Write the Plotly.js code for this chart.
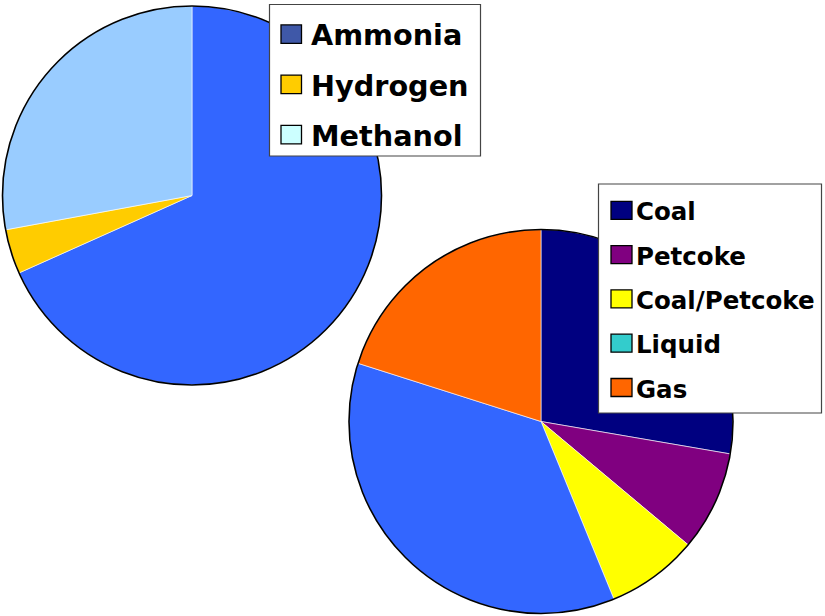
<!DOCTYPE html>
<html>
<head>
<meta charset="utf-8">
<script src="https://cdn.plot.ly/plotly-3.0.1.min.js"></script>
<style>html,body{margin:0;padding:0;background:#fff;}#chart{width:825px;height:616px;}</style>
</head>
<body>
<div id="chart"></div>
<script>
// ---- data ----
var productLabels = ['Ammonia', 'Hydrogen', 'Methanol'];
var productValues = [68.3, 3.8, 27.9];
var productSliceColors = ['#3366FF', '#FFCC00', '#99CCFF'];
var productLegendColors = ['#3F58A8', '#FFCC00', '#CCFFFF'];

var feedLabels = ['Coal', 'Petcoke', 'Coal/Petcoke', 'Liquid', 'Gas'];
var feedValues = [27.7, 8.4, 7.7, 36.1, 20.1];
var feedSliceColors = ['#000080', '#800080', '#FFFF00', '#3366FF', '#FF6600'];
var feedLegendColors = ['#000080', '#800080', '#FFFF00', '#33CCCC', '#FF6600'];

// ---- geometry helpers (pixel -> paper) ----
var W = 825, H = 616;
function px(x) { return x / W; }
function py(y) { return 1 - y / H; }

var pie1 = {cx: 192, cy: 195.5, r: 189.5};
var pie2 = {cx: 541, cy: 421.5, r: 192};

function dom(p) {
  return {x: [px(p.cx - p.r), px(p.cx + p.r)], y: [py(p.cy + p.r), py(p.cy - p.r)]};
}

var traces = [
  {type: 'pie', labels: productLabels, values: productValues, sort: false,
   direction: 'clockwise', rotation: 0, textinfo: 'none', hoverinfo: 'label+percent',
   showlegend: false, domain: dom(pie1),
   marker: {colors: productSliceColors, line: {color: '#FFFFFF', width: 0.6}}},
  {type: 'pie', labels: feedLabels, values: feedValues, sort: false,
   direction: 'clockwise', rotation: 0, textinfo: 'none', hoverinfo: 'label+percent',
   showlegend: false, domain: dom(pie2),
   marker: {colors: feedSliceColors, line: {color: '#FFFFFF', width: 0.6}}}
];

var shapes = [];
var annotations = [];

// outer outlines
[pie1, pie2].forEach(function (p) {
  shapes.push({type: 'circle', xref: 'paper', yref: 'paper', layer: 'above',
    x0: px(p.cx - p.r), x1: px(p.cx + p.r), y0: py(p.cy + p.r), y1: py(p.cy - p.r),
    line: {color: '#000000', width: 1.6}, fillcolor: 'rgba(0,0,0,0)'});
});

function addLegend(box, names, colors, opt) {
  shapes.push({type: 'rect', xref: 'paper', yref: 'paper', layer: 'above',
    x0: px(box.x0), x1: px(box.x1), y0: py(box.y1), y1: py(box.y0),
    line: {color: '#444444', width: 1.2}, fillcolor: '#FFFFFF'});
  for (var i = 0; i < names.length; i++) {
    var cy = opt.firstY + i * opt.step;
    shapes.push({type: 'rect', xref: 'paper', yref: 'paper', layer: 'above',
      x0: px(opt.swX0), x1: px(opt.swX1), y0: py(cy + opt.swH / 2), y1: py(cy - opt.swH / 2),
      line: {color: '#000000', width: 1.3}, fillcolor: colors[i]});
    annotations.push({xref: 'paper', yref: 'paper', x: px(opt.textX), y: py(cy + opt.textDy),
      xanchor: 'left', yanchor: 'middle', showarrow: false, text: names[i],
      font: {family: 'DejaVu Sans', size: opt.size, color: '#000000', weight: 'bold'}});
  }
}

addLegend({x0: 269.5, y0: 4.5, x1: 480.5, y1: 156}, productLabels, productLegendColors,
  {firstY: 34.2, step: 50.2, swX0: 281, swX1: 301.5, swH: 18.5, textX: 309, textDy: 1.3, size: 28.7});
addLegend({x0: 598.5, y0: 184, x1: 821.5, y1: 413}, feedLabels, feedLegendColors,
  {firstY: 210.3, step: 44.3, swX0: 611, swX1: 632, swH: 18, textX: 634, textDy: 1.6, size: 24.5});

var layout = {
  width: W, height: H,
  margin: {l: 0, r: 0, t: 0, b: 0, pad: 0},
  paper_bgcolor: '#FFFFFF', plot_bgcolor: '#FFFFFF',
  showlegend: false,
  shapes: shapes,
  annotations: annotations
};

Plotly.newPlot('chart', traces, layout, {displayModeBar: false, staticPlot: true});
</script>
</body>
</html>
